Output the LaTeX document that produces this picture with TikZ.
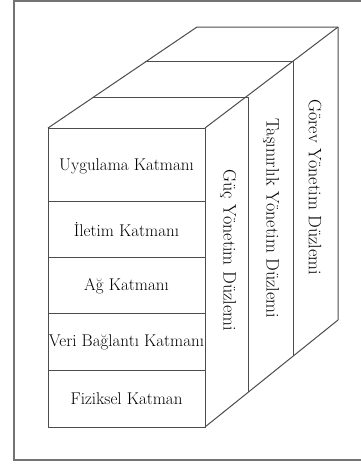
\documentclass[tikz,border=0pt]{standalone}
\usepackage{tikz}

\begin{document}
\begin{tikzpicture}[x=1pt,y=-1pt,
    edge/.style={draw=black!70,line width=1pt,line join=round},
    layertext/.style={font=\fontsize{17}{20}\selectfont,inner sep=0pt},
    planetext/.style={font=\fontsize{18}{21}\selectfont,inner sep=0pt,rotate=-90}]
      \useasboundingbox (0,0) rectangle (360,464);
      \draw[black!55,line width=1.5pt] (362,1) -- (14,1) -- (14,460) -- (362,460);

      % cube corners
      \coordinate (ftl) at (48,128);
      \coordinate (ftr) at (205,128);
      \coordinate (fbr) at (205,427);
      \coordinate (fbl) at (48,427);
      \coordinate (btl) at (197,27);
      \coordinate (btr) at (338,27);
      \coordinate (bbr) at (338,320);
      \coordinate (s1l) at (93,97);
      \coordinate (s1r) at (248,97);
      \coordinate (s1b) at (248,392);
      \coordinate (s2l) at (145,61);
      \coordinate (s2r) at (293,61);
      \coordinate (s2b) at (293,356);

      \draw[edge] (ftl) rectangle (fbr);
      \draw[edge] (ftl) -- (btl) -- (btr) -- (bbr) -- (fbr);
      \draw[edge] (ftr) -- (btr);
      \draw[edge] (s1l) -- (s1r) -- (s1b);
      \draw[edge] (s2l) -- (s2r) -- (s2b);
      \draw[edge] (48,201) -- (205,201);
      \draw[edge] (48,257) -- (205,257);
      \draw[edge] (48,313) -- (205,313);
      \draw[edge] (48,370) -- (205,370);

      \node[layertext] (uygulama) at (126.5,166) {Uygulama Katmanı};
      \node[layertext] (iletim) at (126.5,230) {İletim Katmanı};
      \node[layertext] (ag) at (126.5,286) {Ağ Katmanı};
      \node[layertext] (veri) at (126.5,342) {Veri Bağlantı Katmanı};
      \node[layertext] (fiziksel) at (126.5,399) {Fiziksel Katman};

      \node[planetext] (guc) at (228,250) {Güç Yönetim Düzlemi};
      \node[planetext] (tasinirlik) at (271,218) {Taşınırlık Yönetim Düzlemi};
      \node[planetext] (gorev) at (315,187) {Görev Yönetim Düzlemi};
    \end{tikzpicture}
\end{document}
